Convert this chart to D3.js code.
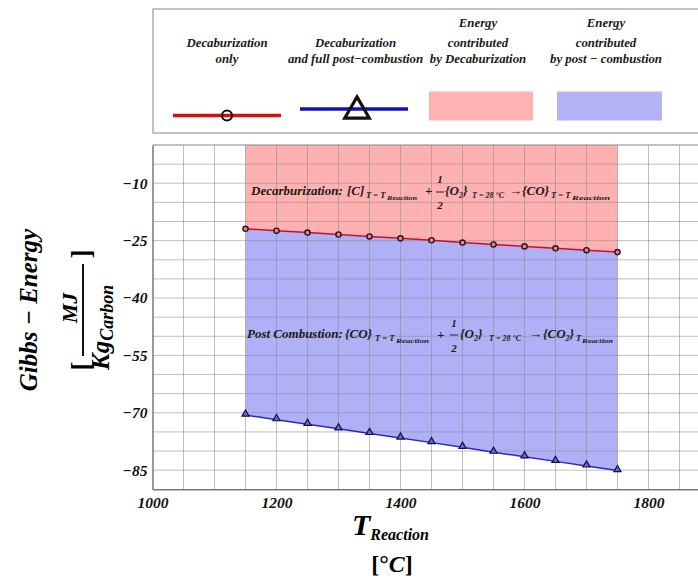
<!DOCTYPE html>
<html><head><meta charset="utf-8">
<script src="https://cdn.jsdelivr.net/npm/d3@7"></script>
<style>
body{margin:0;background:#fff;}
</style></head>
<body>
<svg id="c" width="698" height="579" font-family="'Liberation Serif', 'Times New Roman', Times, serif" font-weight="bold" font-style="italic"></svg>
<script>
// ---- data ----
const temps = [1150,1200,1250,1300,1350,1400,1450,1500,1550,1600,1650,1700,1750];
const decarbOnly = [-21.9,-22.4,-22.9,-23.4,-23.9,-24.4,-24.9,-25.5,-26.0,-26.5,-27.0,-27.5,-28.0];
const decarbFull = [-70.6,-71.8,-73.0,-74.2,-75.4,-76.6,-77.8,-79.0,-80.3,-81.5,-82.7,-83.9,-85.1];
const xTicks = [1000,1200,1400,1600,1800];
const yTicks = [-10,-25,-40,-55,-70,-85];
const xGrid = [1050,1100,1150,1200,1250,1300,1350,1400,1450,1500,1550,1600,1650,1700,1750,1800,1850];
const yGrid = [-5,-10,-15,-20,-25,-30,-35,-40,-45,-50,-55,-60,-65,-70,-75,-80,-85];
const legendLabels = [["Decaburization","only"],["Decaburization","and full post\u2212combustion"],["Energy","contributed","by Decaburization"],["Energy","contributed","by post \u2212 combustion"]];

const FONT = "'Liberation Serif', 'Times New Roman', Times, serif";
const svg = d3.select("#c");
const L=152.5, T=145, B=489.3;
const x = d3.scaleLinear().domain([1000,1900]).range([L, L+900*0.62]);
const y = d3.scaleLinear().domain([-90,0]).range([B, T]);

const pink="#ffb0b0", blue="#b0b0f6";
const pts = temps.map((t,i)=>({t, a:decarbOnly[i], b:decarbFull[i]}));

// fills
svg.append("path").datum(pts).attr("fill",pink)
  .attr("d", d3.area().x(d=>x(d.t)).y0(y(0)).y1(d=>y(d.a)));
svg.append("path").datum(pts).attr("fill",blue)
  .attr("d", d3.area().x(d=>x(d.t)).y0(d=>y(d.a)).y1(d=>y(d.b)));

// grid
const g = svg.append("g").attr("stroke","#8a8a8a").attr("stroke-opacity",0.55).attr("stroke-width",1);
xGrid.forEach(v=>g.append("line").attr("x1",x(v)).attr("x2",x(v)).attr("y1",T).attr("y2",B));
yGrid.forEach(v=>g.append("line").attr("x1",L).attr("x2",698).attr("y1",y(v)).attr("y2",y(v)));

// frame
svg.append("line").attr("x1",L).attr("x2",698).attr("y1",T).attr("y2",T).attr("stroke","#888").attr("stroke-width",1.2);

// axes
const fmt = v => (v<0?"\u2212":"")+Math.abs(v);
const ax = svg.append("g").attr("transform",`translate(0,${B})`)
  .call(d3.axisBottom(x).tickValues(xTicks).tickSize(0).tickPadding(8).tickFormat(d=>d));
ax.attr("font-family",FONT).attr("font-size",15.5);
ax.select(".domain").attr("stroke","#777").attr("stroke-width",1.5);
ax.selectAll("text").attr("fill","#111").attr("dy","0.71em");
const ay = svg.append("g").attr("transform",`translate(${L},0)`)
  .call(d3.axisLeft(y).tickValues(yTicks).tickSize(0).tickPadding(5).tickFormat(fmt));
ay.attr("font-family",FONT).attr("font-size",15.5);
ay.select(".domain").attr("stroke","#777").attr("stroke-width",1.5);
ay.selectAll("text").attr("fill","#111");

// lines
svg.append("path").datum(pts).attr("fill","none").attr("stroke","#c8102e").attr("stroke-width",1.5)
  .attr("d", d3.line().x(d=>x(d.t)).y(d=>y(d.a)));
svg.append("path").datum(pts).attr("fill","none").attr("stroke","#2a2ac0").attr("stroke-width",1.5)
  .attr("d", d3.line().x(d=>x(d.t)).y(d=>y(d.b)));
svg.selectAll(".cm").data(pts).join("circle").attr("cx",d=>x(d.t)).attr("cy",d=>y(d.a)).attr("r",2.6)
  .attr("fill","#d88").attr("stroke","#301018").attr("stroke-width",1.4);
const tri = d3.symbol().type(d3.symbolTriangle).size(22);
svg.selectAll(".tm").data(pts).join("path").attr("d",tri)
  .attr("transform",d=>`translate(${x(d.t)},${y(d.b)-1})`)
  .attr("fill","#6a6ad0").attr("stroke","#101040").attr("stroke-width",1.2);

// annotations
function seg(xp, yp, txt, size){ return svg.append("text").attr("x",xp).attr("y",yp).attr("font-size",size).attr("fill","#1a1a1a").text(txt); }
function frac(xc, y1, y2, yb){
  seg(xc,y1,"1",11).attr("text-anchor","middle");
  seg(xc,y2,"2",11).attr("text-anchor","middle");
  svg.append("line").attr("x1",xc-4).attr("x2",xc+4).attr("y1",yb).attr("y2",yb).attr("stroke","#222").attr("stroke-width",1);
}
function brace(xp, yp, inner, subscript){
  const t = seg(xp,yp,"{"+inner,13);
  if(subscript){ t.append("tspan").attr("font-size",8).attr("dy",3).text(subscript); t.append("tspan").attr("dy",-3).text("}"); }
  else t.append("tspan").text("}");
  return t;
}
// Decarburization equation
let by=195;
seg(251,by,"Decarburization:",13);
seg(347,by,"[C]",13);
seg(366,by+3,"T = T",8.5);
seg(387,by+5,"Reaction",6).attr("textLength",30).attr("lengthAdjust","spacingAndGlyphs");
seg(425,by,"+",13);
frac(440,183,209,192);
brace(445,by,"O","2");
seg(472,by+3,"T = 28 \u00B0C",8);
seg(509,by,"\u2192",13);
brace(522,by,"CO",null);
seg(551,by+3,"T = T",8.5);
seg(572,by+5,"Reaction",6).attr("textLength",38).attr("lengthAdjust","spacingAndGlyphs");

// Post combustion equation
by=338;
seg(247,by,"Post Combustion:",13);
brace(345,by,"CO",null);
seg(375,by+3,"T = T",8.5);
seg(396,by+5,"Reaction",6).attr("textLength",33).attr("lengthAdjust","spacingAndGlyphs");
seg(437,by+1,"+",13);
frac(454,327,352,335);
brace(460,by,"O","2");
seg(489,by+3,"T = 28 \u00B0C",8);
seg(529,by,"\u2192",13);
brace(543,by,"CO","2");
seg(576,by+3,"T",8.5);
seg(582,by+5,"Reaction",6).attr("textLength",31).attr("lengthAdjust","spacingAndGlyphs");

// axis titles
const yl = svg.append("g").attr("transform","translate(0,310) rotate(-90)");
yl.append("text").attr("x",0).attr("y",37).attr("text-anchor","middle").attr("font-size",25).text("Gibbs \u2212 Energy");
yl.append("text").attr("x",2).attr("y",77).attr("text-anchor","middle").attr("font-size",22).text("MJ");
yl.append("line").attr("x1",-46).attr("x2",46).attr("y1",83).attr("y2",83).attr("stroke","#111").attr("stroke-width",2);
const kg = yl.append("text").attr("x",-60).attr("y",109).attr("font-size",25).text("Kg");
kg.append("tspan").attr("font-size",18).attr("dy",4).text("Carbon");
yl.append("text").attr("x",-56).attr("y",90).attr("text-anchor","middle").attr("font-size",27).attr("font-style","normal").text("[");
yl.append("text").attr("x",56).attr("y",90).attr("text-anchor","middle").attr("font-size",27).attr("font-style","normal").text("]");

const xl = svg.append("text").attr("x",352).attr("y",535).attr("font-size",30).text("T");
xl.append("tspan").attr("font-size",16).attr("dy",5).text("Reaction");
const deg = svg.append("text").attr("x",392).attr("y",572).attr("text-anchor","middle").attr("font-size",24).attr("font-style","normal").text("[\u00B0");
deg.append("tspan").attr("font-style","italic").text("C");
deg.append("tspan").text("]");

// legend
svg.append("rect").attr("x",153).attr("y",9).attr("width",560).attr("height",124).attr("fill","none").attr("stroke","#999").attr("stroke-width",1.2);
const centers=[227,355.5,478,606];
legendLabels.forEach((lines,i)=>{
  const base = lines.length===3 ? [27,47,63] : [47,63];
  lines.forEach((s,j)=>svg.append("text").attr("x",centers[i]).attr("y",base[j]).attr("text-anchor","middle").attr("font-size",12.8).attr("fill","#1a1a1a").text(s));
});
svg.append("line").attr("x1",173).attr("x2",281).attr("y1",115.5).attr("y2",115.5).attr("stroke","#d41010").attr("stroke-width",3.5);
svg.append("circle").attr("cx",227).attr("cy",115.5).attr("r",5).attr("fill","none").attr("stroke","#111").attr("stroke-width",2);
svg.append("line").attr("x1",300).attr("x2",408).attr("y1",109).attr("y2",109).attr("stroke","#1010c0").attr("stroke-width",3.5);
svg.append("path").attr("d",d3.symbol().type(d3.symbolTriangle).size(260)).attr("transform","translate(357,111)")
  .attr("fill","none").attr("stroke","#111").attr("stroke-width",3.2);
svg.append("rect").attr("x",429).attr("y",91.5).attr("width",104).attr("height",29).attr("fill","#ffb3b3");
svg.append("rect").attr("x",557).attr("y",91.5).attr("width",105).attr("height",29).attr("fill","#b3b3f6");
</script>
</body></html>
